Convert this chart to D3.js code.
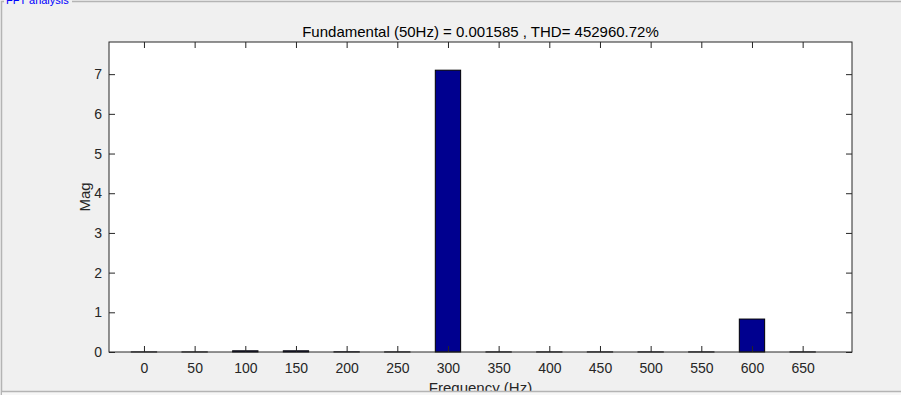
<!DOCTYPE html>
<html>
<head>
<meta charset="utf-8">
<script src="https://cdn.jsdelivr.net/npm/d3@7"></script>
<style>
  body { margin: 0; background: #f0f0f0; }
  text { font-family: "Liberation Sans", Arial, sans-serif; }
</style>
</head>
<body>
<div id="chart"></div>
<script>
// harmonic frequencies (Hz) and magnitudes
var freqs = [0, 50, 100, 150, 200, 250, 300, 350, 400, 450, 500, 550, 600, 650];
var mags  = [0.002, 0.0016, 0.03, 0.03, 0.004, 0.002, 7.1, 0.002, 0.002, 0.002, 0.002, 0.002, 0.83, 0.002];
var xTicks = [0, 50, 100, 150, 200, 250, 300, 350, 400, 450, 500, 550, 600, 650];
var yTicks = [0, 1, 2, 3, 4, 5, 6, 7];
var titleText = "Fundamental (50Hz) = 0.001585 , THD= 452960.72%";

var data = freqs.map(function(f, i) { return {f: f, m: mags[i]}; });

var W = 901, H = 395;
var margin = {top: 42, right: 49, bottom: 43, left: 109},
    width = W - margin.left - margin.right,
    height = H - margin.top - margin.bottom;

var svg = d3.select("#chart")
  .append("svg")
    .attr("width", W)
    .attr("height", H);

// panel frame ("FFT analysis" group box)
svg.append("path")
  .attr("d", "M1.5,395 V1.5 H" + W)
  .attr("fill", "none").attr("stroke", "#b4b4b4").attr("stroke-width", 1.5);
svg.append("rect")
  .attr("x", 4).attr("y", -2).attr("width", 68).attr("height", 7)
  .attr("fill", "#f0f0f0");
svg.append("text")
  .attr("x", 6).attr("y", 4)
  .attr("font-size", 11)
  .attr("fill", "#0000ff")
  .text("FFT analysis");

var g = svg.append("g")
  .attr("transform", "translate(" + margin.left + "," + margin.top + ")");

// scales
var x = d3.scaleLinear()
  .domain([-34.5, 698.7])
  .range([0, width]);
var y = d3.scaleLinear()
  .domain([0, 7.81])
  .range([height, 0]);

g.append("rect")
  .attr("width", width).attr("height", height)
  .attr("fill", "#ffffff");

// bars
var barW = x(25) - x(0);
g.selectAll("rect.bar")
  .data(data)
  .enter()
  .append("rect")
    .attr("class", "bar")
    .attr("x", function(d) { return x(d.f) - barW / 2; })
    .attr("y", function(d) { return y(d.m); })
    .attr("width", barW)
    .attr("height", function(d) { return Math.max(0, height - y(d.m)); })
    .attr("fill", "#00008f")
    .attr("stroke", "#000000")
    .attr("stroke-width", 1);

// axes, ticks inward like matlab
function styleAxis(sel) {
  sel.select(".domain").remove();
  sel.selectAll("line").attr("stroke", "#262626");
  sel.selectAll("text").attr("fill", "#262626").attr("font-size", 14);
}

g.append("g")
  .attr("transform", "translate(0," + height + ")")
  .call(d3.axisBottom(x).tickValues(xTicks).tickSize(-6).tickPadding(11))
  .call(styleAxis);
g.append("g")
  .call(d3.axisTop(x).tickValues(xTicks).tickSize(-6).tickFormat(""))
  .call(styleAxis);
g.append("g")
  .call(d3.axisLeft(y).tickValues(yTicks).tickSize(-6).tickPadding(7))
  .call(styleAxis);
g.append("g")
  .attr("transform", "translate(" + width + ",0)")
  .call(d3.axisRight(y).tickValues(yTicks).tickSize(-6).tickFormat(""))
  .call(styleAxis);

// box
g.append("rect")
  .attr("width", width).attr("height", height)
  .attr("fill", "none")
  .attr("stroke", "#262626")
  .attr("stroke-width", 1);

// labels
g.append("text")
  .attr("x", width / 2).attr("y", -5)
  .attr("text-anchor", "middle")
  .attr("font-size", 15)
  .attr("fill", "#000000")
  .text(titleText);

g.append("text")
  .attr("x", width / 2).attr("y", height + 41)
  .attr("text-anchor", "middle")
  .attr("font-size", 15)
  .attr("fill", "#262626")
  .text("Frequency (Hz)");

g.append("text")
  .attr("transform", "translate(-19," + (height / 2) + ")rotate(-90)")
  .attr("text-anchor", "middle")
  .attr("font-size", 15)
  .attr("fill", "#262626")
  .text("Mag");

// panel edge hides the bottom of the x label
svg.append("rect")
  .attr("x", 2).attr("y", 392).attr("width", W).attr("height", 3)
  .attr("fill", "#f7f7f7");
svg.append("line")
  .attr("x1", 2).attr("x2", W).attr("y1", 391.5).attr("y2", 391.5)
  .attr("stroke", "#b4b4b4").attr("stroke-width", 1.5);
</script>
</body>
</html>
